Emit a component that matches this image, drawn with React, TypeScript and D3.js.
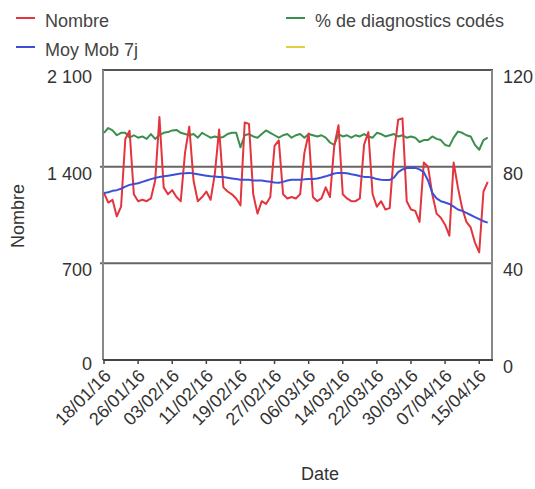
import * as React from "react";
import * as d3 from "d3";

// daily values, 18/01/16 -> 17/04/16
const startDate = "18/01/16";

const nombre = [
  1210, 1140, 1160, 1040, 1110, 1600, 1660,
  1200, 1150, 1160, 1150, 1170, 1300, 1760,
  1250, 1200, 1230, 1180, 1150, 1500, 1690,
  1300, 1150, 1180, 1220, 1160, 1350, 1670,
  1250, 1220, 1200, 1170, 1120, 1720, 1710,
  1200, 1060, 1150, 1130, 1180, 1550, 1590,
  1200, 1170, 1180, 1170, 1200, 1500, 1640,
  1180, 1150, 1170, 1250, 1180, 1550, 1700,
  1200, 1170, 1150, 1150, 1170, 1560, 1650,
  1200, 1110, 1150, 1090, 1100, 1500, 1740,
  1750, 1150, 1090, 1080, 1000, 1430, 1400,
  1200, 1060, 1030, 980, 900, 1430, 1250,
  1100, 1000, 960, 850, 780, 1220, 1290,
];

const moyMob7j = [
  1210, 1215, 1225, 1230, 1240, 1255, 1268,
  1275, 1280, 1290, 1300, 1310, 1318, 1326,
  1330, 1335, 1340, 1345, 1350, 1352, 1355,
  1350, 1345, 1340, 1335, 1330, 1328, 1326,
  1325, 1320, 1315, 1310, 1305, 1305, 1305,
  1300, 1300, 1300, 1295, 1290, 1285, 1283,
  1290, 1300, 1305, 1305, 1305, 1308, 1310,
  1311, 1315, 1322, 1330, 1340, 1350, 1355,
  1355, 1352, 1345, 1340, 1332, 1326, 1326,
  1320, 1310, 1305, 1304, 1304, 1320, 1360,
  1380, 1390, 1392, 1391, 1380, 1360, 1300,
  1210, 1170, 1150, 1140, 1130, 1110, 1090,
  1080, 1065, 1050, 1035, 1020, 1005, 995,
];

const pctCodes = [
  94, 96, 95, 93, 94, 94, 92,
  93, 92, 92.5, 91.5, 93.5, 91.5, 93,
  94, 94.3, 95, 95.2, 94, 93.5, 93,
  93.5, 92, 94, 93, 92, 92.5, 92,
  92.3, 93.5, 94, 94, 88, 93, 93.5,
  92.5, 92, 93.5, 95, 94, 93, 92,
  93, 93.5, 92, 93, 93.5, 92, 93.5,
  93, 92.5, 93, 92, 90, 89, 93.5,
  92.5, 93, 92, 93, 92.5, 93.5, 92.5,
  92, 94, 93.5, 92.5, 93, 93.5, 92.5,
  93, 92, 92.5, 92, 90.2, 91, 91,
  92.5, 91.5, 91, 89, 88.5, 92, 94.5,
  94, 93, 92.5, 89, 87, 91, 92,
];

const xTickLabels = [
  "18/01/16", "26/01/16", "03/02/16", "11/02/16", "19/02/16", "27/02/16",
  "06/03/16", "14/03/16", "22/03/16", "30/03/16", "07/04/16", "15/04/16",
];
const leftTicks = [0, 700, 1400, 2100];
const rightTicks = [0, 40, 80, 120];

const legendItems = [
  { label: "Nombre", color: "#e2353d", col: 0, row: 0 },
  { label: "% de diagnostics codés", color: "#3a8f4c", col: 1, row: 0 },
  { label: "Moy Mob 7j", color: "#3d4fd6", col: 0, row: 1 },
  { label: "", color: "#e3cf3c", col: 1, row: 1 },
];

const parse = d3.timeParse("%d/%m/%y");
const fmtNum = (v: number) => d3.format(",")(v).replace(",", " ");

export default function App() {
  const W = 535;
  const H = 489;
  const left = 103;
  const right = 492;
  const top = 70;
  const bottom = 360;
  const font = "'Liberation Sans', Arial, sans-serif";
  const fs = 18;

  const d0 = parse(startDate) as Date;
  const dates = nombre.map((_, i) => d3.timeDay.offset(d0, i));

  const x = d3
    .scaleTime()
    .domain([d0, d3.timeDay.offset(d0, 91)])
    .range([left + 1, right]);
  const yL = d3.scaleLinear().domain([0, 2100]).range([bottom, top]);
  const yR = d3.scaleLinear().domain([0, 120]).range([bottom, top]);

  const lineL = d3
    .line<number>()
    .x((_, i) => x(dates[i]))
    .y((d) => yL(d));
  const lineR = d3
    .line<number>()
    .x((_, i) => x(dates[i]))
    .y((d) => yR(d));

  return (
    <svg
      width={W}
      height={H}
      style={{ position: "absolute", left: 0, top: 0, background: "#fff" }}
      fontFamily={font}
    >
      {/* legend */}
      {legendItems.map((it) => {
        const lx = it.col === 0 ? 16 : 286;
        const ly = it.row === 0 ? 18 : 47;
        return (
          <g key={it.label + it.col + it.row}>
            <line x1={lx} x2={lx + 19} y1={ly} y2={ly} stroke={it.color} strokeWidth={2} />
            <text x={lx + 29} y={ly + 9} fontSize={fs} fill="#444">
              {it.label}
            </text>
          </g>
        );
      })}

      {/* plot frame top */}
      <rect x={left - 1} y={yL(2100) - 1} width={right - left + 2} height={2} fill="#555" />

      {/* grid lines */}
      {leftTicks
        .filter((t) => t > 0 && t < 2100)
        .map((t) => (
          <line key={"g" + t} x1={left - 3} x2={right} y1={yL(t)} y2={yL(t)} stroke="#666" strokeWidth={2} />
        ))}
      <line x1={left} x2={left} y1={top} y2={bottom} stroke="#888" strokeWidth={2} />
      <line x1={right} x2={right} y1={top} y2={bottom} stroke="#888" strokeWidth={2} />

      {/* series */}
      <path d={lineR(pctCodes) || ""} fill="none" stroke="#3a8f4c" strokeWidth={2} strokeLinejoin="round" />
      <path d={lineL(nombre) || ""} fill="none" stroke="#e2353d" strokeWidth={2} strokeLinejoin="round" />
      <path d={lineL(moyMob7j) || ""} fill="none" stroke="#3d4fd6" strokeWidth={2} strokeLinejoin="round" />

      {/* x axis */}
      <line x1={left} x2={right + 1} y1={bottom} y2={bottom} stroke="#444" strokeWidth={2} />
      {xTickLabels.map((lab) => {
        const tx = x(parse(lab) as Date);
        return (
          <g key={lab}>
            <line x1={tx} x2={tx} y1={bottom} y2={bottom + 4} stroke="#444" strokeWidth={1.5} />
            <text
              transform={`translate(${tx + 8},${bottom + 17}) rotate(-45)`}
              textAnchor="end"
              fontSize={fs}
              fill="#333"
            >
              {lab}
            </text>
          </g>
        );
      })}

      {/* y axes labels */}
      {leftTicks.map((t) => (
        <text key={t} x={92} y={Math.min(yL(t) + 13, 370)} textAnchor="end" fontSize={fs} fill="#333">
          {fmtNum(t)}
        </text>
      ))}
      {rightTicks.map((t) => (
        <text key={t} x={503} y={yR(t) + 13} fontSize={fs} fill="#333">
          {t}
        </text>
      ))}

      <text transform="translate(24,216) rotate(-90)" textAnchor="middle" fontSize={fs} fill="#333">
        Nombre
      </text>
      <text x={320} y={480} textAnchor="middle" fontSize={fs} fill="#333">
        Date
      </text>
    </svg>
  );
}
